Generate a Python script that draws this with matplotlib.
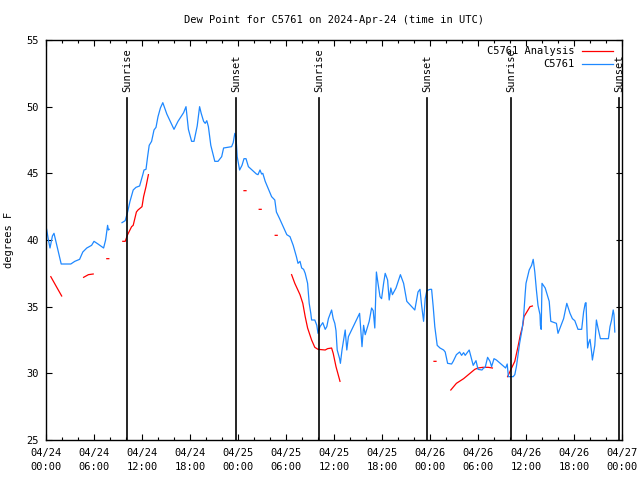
import numpy as np
import matplotlib
matplotlib.use("Agg")
import matplotlib.pyplot as plt
from matplotlib.ticker import MultipleLocator, FixedLocator
import matplotlib.transforms as mtransforms

nan = np.nan

# Hours since 2024-04-24 00:00 UTC
obs_hours = [0.08, 0.3, 0.5, 0.8, 1.0, 1.9, 3.1, 3.6, 4.2, 4.6, 5.1, 5.7, 6.0, 6.5, 7.2, 7.45, 7.7, 7.8, 7.9,
             nan,
             9.5, 9.9, 10.2, 10.5, 10.9, 11.25, 11.7, 12.1, 12.25, 12.5, 12.7, 12.9, 13.2, 13.5, 13.75, 14.0,
             14.3, 14.6, 15.1, 16.0, 16.5, 17.2, 17.5, 17.8, 18.2, 18.5, 18.9, 19.2, 19.4, 19.7, 19.9, 20.1,
             20.3, 20.6, 21.1, 21.5, 21.96, 22.2, 23.2, 23.4, 23.6, 23.75, 23.9, 24.2, 24.5, 24.75, 25.0,
             25.3, 26.3, 26.5, 26.75, 26.95, 27.1, 27.4, 28.2, 28.6, 28.8, 29.2, 30.1, 30.5, 30.9, 31.3,
             31.5, 31.75, 31.96, 32.2, 32.4, 32.7, 32.9, 33.1, 33.2, 33.6, 33.85, 34.0, 34.25, 34.6, 34.9,
             35.1, 35.3, 35.7, 35.9, 36.1, 36.25, 36.4, 36.7, 36.8, 37.0, 37.2, 37.4, 37.6, 37.8, 38.2,
             39.2, 39.5, 39.7, 39.9, 40.4, 40.7, 40.9, 41.1, 41.3, 41.5, 41.75, 41.95, 42.2, 42.4, 42.7,
             42.9, 43.1, 43.3, 43.75, 44.3, 44.7, 45.1, 46.1, 46.5, 46.75, 46.95, 47.2, 47.4, 47.6, 48.0,
             48.2, 48.4, 48.6, 48.9, 49.25, 49.7, 49.9, 50.2, 50.7, 50.9, 51.3, 51.7, 51.95, 52.2, 52.4,
             52.65, 52.9, 53.4, 53.75, 54.0, 54.5, 54.7, 54.9, 55.2, 55.5, 55.7, 56.0, 56.3, 57.45, 57.65,
             57.8, 58.4, 58.6, 58.8, 59.2, 59.5, 59.7, 59.9, 60.0, 60.2, 60.4, 60.7, 60.9, 61.1, 61.3,
             61.5, 61.75, 61.8, 61.9, 62.0, 62.4, 62.6, 62.9, 63.1, 63.8, 64.0, 64.25, 64.7, 65.1, 65.5,
             65.8, 66.1, 66.5, 66.96, 67.2, 67.4, 67.5, 67.6, 67.7, 67.85, 68.0, 68.2, 68.3, 68.6, 68.8,
             69.0, 69.3, 70.3, 70.5, 70.7, 70.9, 71.0, 71.1]
obs_values = [40.8, 40.0, 39.4, 40.3, 40.5, 38.2, 38.2, 38.4, 38.55, 39.1, 39.4, 39.6, 39.9, 39.7, 39.4, 40.0, 41.1, 40.75, 40.8,
              nan,
              41.3, 41.45, 42.1, 42.9, 43.75, 43.95, 44.05, 44.9, 45.25, 45.3, 46.25, 47.1, 47.4, 48.25, 48.45, 49.25,
              49.9, 50.3, 49.45, 48.3, 48.9, 49.55, 50.0, 48.3, 47.4, 47.4, 48.55, 50.0, 49.5, 48.9, 48.75, 48.95,
              48.5, 47.1, 45.9, 45.9, 46.25, 46.9, 47.0, 47.3, 48.0, 47.75, 46.25, 45.25, 45.6, 46.1, 46.1,
              45.5, 44.95, 44.9, 45.25, 44.95, 45.0, 44.4, 43.25, 43.0, 42.1, 41.6, 40.4, 40.25, 39.6, 38.75,
              38.25, 38.4, 37.9, 37.8, 37.5, 36.75, 35.25, 34.5, 34.0, 34.0, 33.6, 33.0, 33.5, 33.8, 33.3,
              33.5, 34.1, 34.75, 34.1, 33.75, 33.2, 31.75, 31.1, 30.75, 31.75, 32.5, 33.25, 31.75, 32.75, 33.25,
              34.5, 32.0, 33.6, 32.9, 33.9, 34.9, 34.7, 33.4, 37.6, 36.75, 35.75, 35.6, 36.75, 37.5, 37.0,
              35.5, 36.4, 35.9, 36.4, 37.4, 36.75, 35.4, 34.75, 36.1, 36.3, 35.1, 33.9, 35.6, 36.2, 36.3,
              36.3, 35.0, 33.5, 32.1, 31.9, 31.75, 31.6, 30.75, 30.7, 30.9, 31.4, 31.6, 31.35, 31.55, 31.35,
              31.55, 31.75, 30.6, 30.95, 30.3, 30.25, 30.4, 30.45, 31.2, 30.9, 30.5, 31.1, 31.0, 30.4, 30.7,
              29.75, 29.75, 29.9, 30.5, 32.25, 33.25, 34.25, 36.0, 36.75, 37.25, 37.75, 38.1, 38.55, 37.6, 36.25,
              35.1, 34.4, 33.6, 33.3, 36.75, 36.4, 36.0, 35.4, 33.9, 33.75, 33.0, 33.4, 34.1, 35.25, 34.5,
              34.1, 33.95, 33.3, 33.3, 34.6, 35.25, 35.3, 33.5, 31.9, 32.3, 32.55, 31.6, 31.0, 32.1, 34.0,
              33.4, 32.6, 32.6, 33.5, 34.0, 34.75, 34.4, 33.1]

ana_hours = [0.6, 1.3, 1.96, nan,
             4.7, 5.3, 5.9, nan,
             7.6, 7.85, nan,
             9.6, 9.9, 10.2, 10.7, 10.9, 11.3, 11.5, 12.0, 12.2, 12.5, 12.8, nan,
             24.75, 25.0, nan, 26.65, 26.9, nan, 28.65, 28.9, nan,
             30.7, 31.1, 31.75, 32.1, 32.4, 32.7, 33.2, 33.6, 34.0, 34.9, 35.2, 35.7, 35.9, 36.25, 36.75, nan,
             48.5, 48.75, nan,
             50.6, 51.3, 52.2, 53.0, 53.6, 54.0, 54.6, 55.3, 55.8, nan,
             57.7, 58.2, 58.6, 59.0, 59.3, 59.6, 59.75, 60.1, 60.5, 60.8]
ana_values = [37.25, 36.5, 35.8, nan,
              37.2, 37.4, 37.45, nan,
              38.6, 38.6, nan,
              39.9, 39.9, 40.4, 41.0, 41.1, 42.1, 42.25, 42.5, 43.25, 44.0, 44.9, nan,
              43.7, 43.7, nan, 42.3, 42.3, nan, 40.35, 40.35, nan,
              37.4, 36.75, 35.9, 35.25, 34.25, 33.4, 32.5, 31.95, 31.8, 31.75, 31.85, 31.9, 31.5, 30.5, 29.4, nan,
              30.9, 30.9, nan,
              28.75, 29.25, 29.6, 30.0, 30.3, 30.4, 30.45, 30.45, 30.4, nan,
              29.75, 30.4, 30.9, 32.0, 32.9, 33.6, 34.25, 34.6, 35.0, 35.05]

sun_hours = [10.125, 23.8, 34.125, 47.66, 58.1, 71.6]
sun_labels = ["Sunrise", "Sunset", "Sunrise", "Sunset", "Sunrise", "Sunset"]

xtick_hours = list(range(0, 73, 6))
xtick_labels = ["04/24\n00:00", "04/24\n06:00", "04/24\n12:00", "04/24\n18:00",
                "04/25\n00:00", "04/25\n06:00", "04/25\n12:00", "04/25\n18:00",
                "04/26\n00:00", "04/26\n06:00", "04/26\n12:00", "04/26\n18:00",
                "04/27\n00:00"]
yticks = [25, 30, 35, 40, 45, 50, 55]

FONT = "DejaVu Sans Mono"
FS = 7.5
plt.rcParams['font.family'] = [FONT]

fig = plt.figure(figsize=(6.4, 4.8), dpi=100)
ax = fig.add_axes([46/640, 40/480, 576/640, 400/480])

ax.plot(ana_hours, ana_values, color='#ff0000', lw=0.9, label='C5761 Analysis')
ax.plot(obs_hours, obs_values, color='#1e88ff', lw=0.9, label='C5761')

trans = mtransforms.blended_transform_factory(ax.transData, ax.transAxes)
for h, lab in zip(sun_hours, sun_labels):
    ax.plot([h, h], [0, 0.855], transform=trans, color='black', lw=1.2, clip_on=False)
    ax.text(h, 0.87, lab, transform=trans, rotation=90, ha='center', va='bottom',
            fontsize=FS, family=FONT)

ax.set_xlim(0, 72)
ax.set_ylim(25, 55)
ax.xaxis.set_major_locator(FixedLocator(xtick_hours))
ax.set_xticklabels(xtick_labels, linespacing=1.45)
ax.xaxis.set_minor_locator(MultipleLocator(2))
ax.set_yticks(yticks)
ax.set_yticklabels([str(v) for v in yticks])
ax.tick_params(which='major', direction='in', length=4, width=0.8, top=True, right=True,
               labelsize=FS)
ax.tick_params(axis='x', which='major', pad=6)
ax.tick_params(axis='y', which='major', pad=5)
ax.tick_params(which='minor', direction='in', length=2.2, width=0.8, top=True, right=False)
ax.tick_params(axis='y', which='minor', left=False, right=False)
for s in ax.spines.values():
    s.set_linewidth(1.0)

ax.set_ylabel('degrees F', fontsize=FS, labelpad=9)
ax.set_title('Dew Point for C5761 on 2024-Apr-24 (time in UTC)', fontsize=FS, pad=12)

leg = ax.legend(loc='upper right', frameon=False, markerfirst=False, fontsize=FS,
                handlelength=3.0, handletextpad=0.7, labelspacing=0.3,
                borderaxespad=0.2, bbox_to_anchor=(0.995, 1.0))

fig.savefig('out.png', dpi=100)
